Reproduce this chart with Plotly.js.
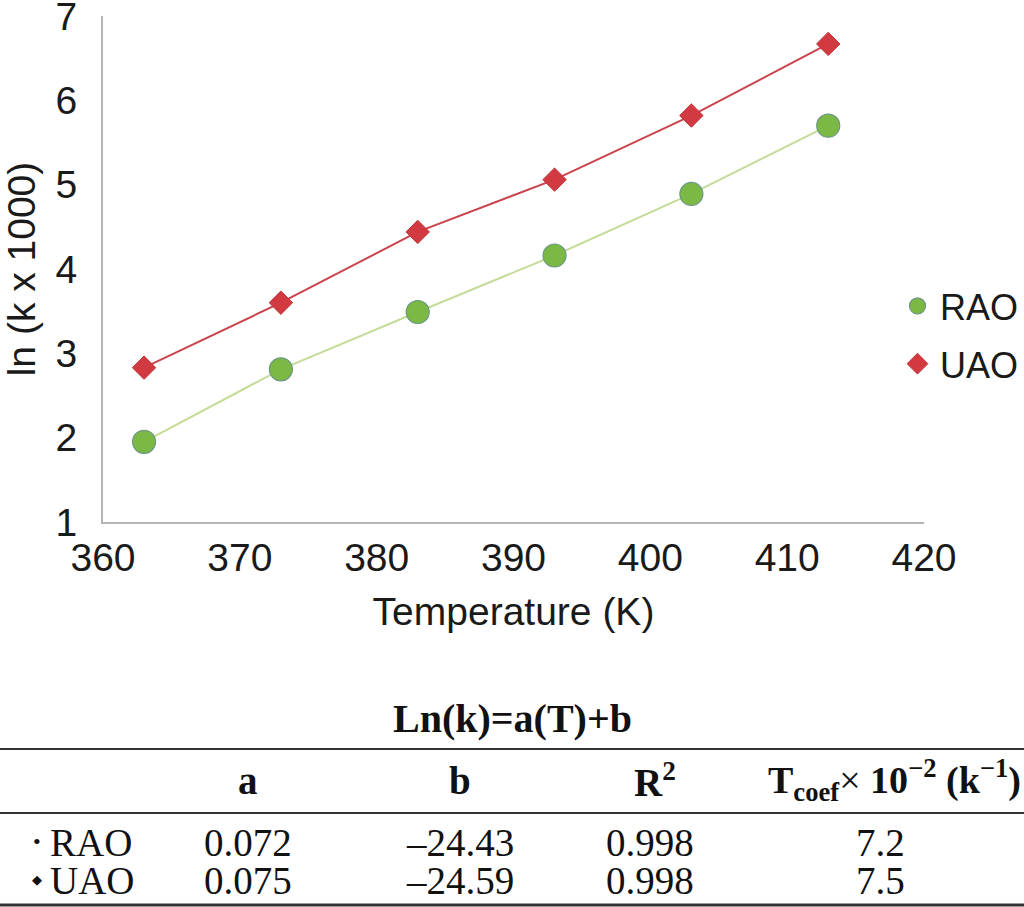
<!DOCTYPE html>
<html>
<head>
<meta charset="utf-8">
<script src="https://cdn.plot.ly/plotly-3.0.1.min.js"></script>
<style>
  html, body { margin: 0; padding: 0; background: #fff; }
  #chart { width: 1024px; height: 907px; }
</style>
</head>
<body>
<div id="chart"></div>
<script>

// data
var temps   = [363, 373, 383, 393, 403, 413]
var raoLnK  = [1.95, 2.81, 3.49, 4.16, 4.89, 5.70]
var uaoLnK  = [2.83, 3.60, 4.44, 5.06, 5.82, 6.67]
var xTicks  = [360, 370, 380, 390, 400, 410, 420]
var yTicks  = [1, 2, 3, 4, 5, 6, 7]

// fit table
var tableTitle   = 'Ln(k)=a(T)+b'
var tableHeaders = ['a', 'b', 'R<sup>2</sup>', 'T<sub>coef</sub><span style="font-weight:normal">×</span> 10<sup>−2</sup> (k<sup>−1</sup>)']
var sampleNames  = ['RAO', 'UAO']
var sampleMarks  = ['•', '◆']
var coefA    = ['0.072', '0.075']
var coefB    = ['–24.43', '–24.59']
var rSquared = ['0.998', '0.998']
var tCoef    = ['7.2', '7.5']


var plotTop = 16, plotBottom = 522, plotLeft = 103, plotRight = 924
var W = 1024, H = 907

// pixel -> paper helpers for the table drawn under the plot
function px(x) { return (x - plotLeft) / (plotRight - plotLeft) }
function py(y) { return (plotBottom - y) / (plotBottom - plotTop) }

var sans = '"Liberation Sans", Arial, Helvetica, sans-serif'
var serif = '"Liberation Serif", "Times New Roman", Times, serif'
var fs = 39

var traces = [
    { x: temps, y: raoLnK, type: 'scatter', mode: 'lines', showlegend: false,
      line: {color: '#c5dc98', width: 2}, hoverinfo: 'skip' },
    { x: temps, y: uaoLnK, type: 'scatter', mode: 'lines', showlegend: false,
      line: {color: '#c9444c', width: 2}, hoverinfo: 'skip' },
    { x: temps, y: raoLnK, type: 'scatter', mode: 'markers', name: 'RAO', legendgroup: 'g1',
      marker: {symbol: 'circle', size: 23, color: '#7cb944', line: {color: '#6b9584', width: 1.2}} },
    { x: temps, y: uaoLnK, type: 'scatter', mode: 'markers', name: 'UAO', legendgroup: 'g2',
      marker: {symbol: 'diamond', size: 18, color: '#d23a41', line: {color: '#c0333a', width: 1}} },
]

var annotations = []
var shapes = []

// table title
annotations.push({ xref: 'paper', yref: 'paper', x: px(512), y: py(718), xanchor: 'center', yanchor: 'middle',
    text: '<b>' + tableTitle + '</b>', showarrow: false, font: {family: serif, size: 40, color: '#111'} })

// rules
var rules = [[749, 2], [813, 2], [905, 3]]
for (var i = 0; i < rules.length; i++) {
    shapes.push({ type: 'line', xref: 'paper', yref: 'paper', x0: px(0), x1: px(W), y0: py(rules[i][0]), y1: py(rules[i][0]),
        line: {color: '#333', width: rules[i][1]} })
}

// header
var headerX = [248, 460, 655, 894]
for (var i = 0; i < tableHeaders.length; i++) {
    annotations.push({ xref: 'paper', yref: 'paper', x: px(headerX[i]), y: py(780), xanchor: 'center', yanchor: 'middle',
        text: '<b>' + tableHeaders[i] + '</b>', showarrow: false, font: {family: serif, size: i == 3 ? 38 : 39, color: '#111'} })
}

// rows
var colX = [248, 460, 650, 880]
var rowY = [842, 880]
for (var r = 0; r < sampleNames.length; r++) {
    var cells = [coefA[r], coefB[r], rSquared[r], tCoef[r]]
    annotations.push({ xref: 'paper', yref: 'paper', x: px(48), y: py(rowY[r]), xanchor: 'left', yanchor: 'middle',
        text: sampleNames[r], showarrow: false, font: {family: serif, size: fs, color: '#111'} })
    annotations.push({ xref: 'paper', yref: 'paper', x: px(37), y: py(rowY[r] - 1), xanchor: 'center', yanchor: 'middle',
        text: sampleMarks[r], showarrow: false, font: {family: serif, size: r == 0 ? 22 : 13, color: '#111'} })
    for (var c = 0; c < cells.length; c++) {
        annotations.push({ xref: 'paper', yref: 'paper', x: px(colX[c]), y: py(rowY[r]), xanchor: 'center', yanchor: 'middle',
            text: cells[c], showarrow: false, font: {family: serif, size: fs, color: '#111'} })
    }
}

var layout = {
    width: W,
    height: H,
    margin: {l: plotLeft, r: W - plotRight, t: plotTop, b: H - plotBottom, pad: 0, autoexpand: false},
    paper_bgcolor: '#fff',
    plot_bgcolor: '#fff',
    font: {family: sans, size: fs, color: '#1a1a1a'},
    showlegend: true,
    legend: {
        x: px(895), y: py(276), xanchor: 'left', yanchor: 'top',
        font: {family: sans, size: 36, color: '#1a1a1a'},
        itemwidth: 35,
        traceorder: 'grouped', tracegroupgap: 8,
        bgcolor: 'rgba(0,0,0,0)',
    },
    xaxis: {
        range: [360, 420], tickvals: xTicks,
        showgrid: false, zeroline: false,
        ticks: 'outside', ticklen: 0, tickcolor: 'rgba(0,0,0,0)',
        showline: true, linecolor: '#b5b5b5', linewidth: 2,
        ticklabeloverflow: 'allow',
        tickfont: {family: sans, size: fs, color: '#1a1a1a'},
        title: {text: 'Temperature (K)', font: {family: sans, size: fs, color: '#1a1a1a'}, standoff: 20},
    },
    yaxis: {
        range: [0.999, 7.001], tickvals: yTicks,
        showgrid: false, zeroline: false,
        ticks: 'outside', ticklen: 16, tickcolor: 'rgba(0,0,0,0)',
        showline: true, linecolor: '#b5b5b5', linewidth: 2,
        ticklabeloverflow: 'allow',
        tickfont: {family: sans, size: fs, color: '#1a1a1a'},
        title: {text: 'ln (k x 1000)', font: {family: sans, size: fs, color: '#1a1a1a'}, standoff: 24},
    },
    annotations: annotations,
    shapes: shapes,
}

Plotly.newPlot('chart', traces, layout, {displayModeBar: false, staticPlot: true})

</script>
</body>
</html>
